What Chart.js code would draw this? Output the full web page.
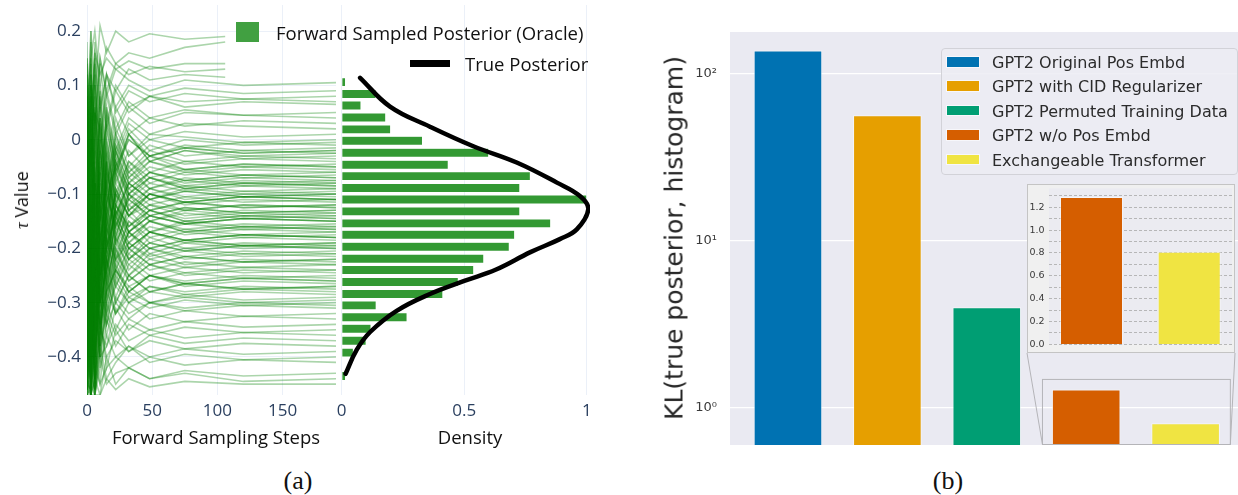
<!DOCTYPE html>
<html>
<head>
<meta charset="utf-8">
<script src="https://cdn.jsdelivr.net/npm/chart.js@4.4.0/dist/chart.umd.min.js"></script>
<style>
    body { margin: 0; width: 1238px; height: 495px; background: #fff; position: relative; overflow: hidden; }
    .abs { position: absolute; }
    .lbl { position: absolute; white-space: nowrap; transform: translate(-50%, -50%); }
    .row { position: absolute; white-space: nowrap; transform: translateY(-50%); }
</style>
</head>
<body>

<!-- panel (a) -->
<canvas id="trajChart" class="abs" style="left:0;top:0" width="340" height="450"></canvas>
<canvas id="histChart" class="abs" style="left:330px;top:0" width="270" height="450"></canvas>

<div class="abs" style="left:236px;top:22px;width:23px;height:20px;background:#41a041"></div>
<div class="row" style="left:276px;top:32px;font:18.5px 'Open Sans';color:#111">Forward Sampled Posterior (Oracle)</div>
<div class="abs" style="left:410px;top:60px;width:40px;height:6.5px;background:#000"></div>
<div class="row" style="left:465px;top:63px;font:18.5px 'Open Sans';color:#111">True Posterior</div>

<div class="lbl" style="left:216px;top:436px;font:18.5px 'Open Sans';color:#111">Forward Sampling Steps</div>
<div class="lbl" style="left:470px;top:436px;font:18.5px 'Open Sans';color:#111">Density</div>
<div class="lbl" style="left:21px;top:200px;font:18px 'Open Sans';color:#111;transform:translate(-50%,-50%) rotate(-90deg)"><i style="font-family:'Liberation Serif'">τ</i> Value</div>
<div class="lbl" style="left:298px;top:481px;font:26px 'Liberation Serif';color:#111">(a)</div>

<!-- panel (b) -->
<canvas id="klChart" class="abs" style="left:620px;top:0" width="618" height="445"></canvas>

<div class="lbl" style="left:674px;top:238px;font:25px 'DejaVu Sans';color:#262626;transform:translate(-50%,-50%) rotate(-90deg)">KL(true posterior, histogram)</div>
<div class="lbl" style="left:948px;top:481px;font:26px 'Liberation Serif';color:#111">(b)</div>

<div id="klLegend" class="abs" style="left:941px;top:48px;width:295px;height:125px;background:rgba(236,236,243,0.85);border:1px solid #d2d2d8;border-radius:4px"></div>

<div id="insetBox" class="abs" style="left:1027px;top:184px;width:206px;height:167px;background:#f0f0f0;border:1px solid #c4c4c4">
    <canvas id="insetChart" width="206" height="167"></canvas>
</div>

<script>
// ---------- (a) forward sampling trajectories ----------
const STEPS = [0, 3, 6, 10, 15, 22, 32, 48, 75, 120, 191];
const STEPS_SHORT = [0, 3, 6, 10, 15, 22, 32, 48, 75, 106];

// tau values in hundredths, one row per trajectory
const TRAJ = [
    [-5, 12, 3, 15, 8, 13, 11, 9, 11, 10, 10.5],
    [2, -10, 18, 6, 12, 5, 9, 7, 8.5, 7.5, 8],
    [-20, 8, -5, 10, 2, 9, 5, 8, 6, 7, 6.5],
    [10, -15, 5, -3, 8, 1, 6, 3, 5, 4.5, 4],
    [-30, 5, 12, -8, 6, -2, 4, 1, 3, 2.5, 2],
    [-12, -35, 0, 8, -6, 4, -3, 1, 0.5, -0.5, 0],
    [5, 15, -20, -5, 3, -4, 2, -2, 0, -1, -0.5],
    [-40, -10, 8, -15, 2, -6, 0, -3, -1.5, -2.5, -2],
    [-8, 20, -12, 6, -9, 1, -5, -1, -3, -2, -2.5],
    [-25, -45, -15, -2, -10, -5, 1, -4, -2, -3.5, -3],
    [12, -5, 10, -12, 0, -8, -2, -6, -4, -5, -4.5],
    [-35, 0, -28, -10, -14, 1, -7, -3, -5.5, -4.5, -5],
    [-2, -20, 5, 2, -10, -1, -6, -3, -4.5, -3.5, -4],
    [-15, 10, -30, -20, -2, -10, -4, -8, -6, -7, -6.5],
    [3, -38, -5, -18, -12, -3, -9, -6, -7.5, -6.5, -7],
    [-45, -25, -8, 4, -12, -2, -8, -5, -6.5, -5.5, -6],
    [-10, -2, -40, -15, 0, -12, -5, -9, -7, -8, -7.5],
    [8, -30, -12, -25, -5, -14, -7, -10, -8.5, -9.5, -9],
    [-28, 5, -20, 0, -16, -4, -11, -7, -9, -8, -8.5],
    [-18, -42, 2, -22, -6, -15, -8, -11, -9, -10, -9.5],
    [-5, -15, -35, -2, -18, -5, -10, -7, -8.5, -7.5, -8],
    [-38, -8, -22, -30, -4, -16, -9, -12, -10.5, -11.5, -11],
    [15, -25, -10, -18, -14, -6, -13, -9, -11, -10, -10.5],
    [-22, -47, -30, -5, -20, -9, -14, -10, -12, -11, -11.5],
    [-8, 10, -15, -25, -3, -14, -8, -11, -9.5, -10.5, -10],
    [-45, -20, 0, -12, -22, -6, -13, -10, -11.5, -10.5, -11],
    [-30, -5, -38, -15, -8, -18, -10, -13, -11.5, -12.5, -12],
    [0, -32, -18, -28, -10, -16, -11, -14, -12.5, -13.5, -13],
    [-12, -40, -8, -20, -25, -9, -16, -12, -14, -13, -13.5],
    [-42, -15, -25, 0, -18, -10, -14, -11, -13, -12, -12.5],
    [-20, 5, -35, -22, -6, -20, -12, -15, -13.5, -14.5, -14],
    [-35, -45, -12, -25, -20, -10, -17, -14, -15.5, -14.5, -15],
    [-5, -28, -40, -10, -24, -12, -18, -15, -16.5, -15.5, -16],
    [-25, -10, -20, -35, -9, -19, -13, -17, -15, -16, -15.5],
    [-46, -30, -5, -18, -22, -12, -16, -13, -15, -14, -14.5],
    [-15, -38, -28, -8, -20, -14, -19, -15, -17, -16, -16.5],
    [-32, 0, -42, -25, -12, -22, -15, -19, -17, -18, -17.5],
    [-10, -44, -15, -30, -22, -13, -20, -17, -18.5, -17.5, -18],
    [-40, -22, -8, -20, -26, -14, -19, -16, -17.5, -16.5, -17],
    [-28, -12, -36, -14, -24, -16, -21, -17, -19, -18, -18.5],
    [-45, -30, -20, -40, -15, -24, -17, -21, -19, -20, -19.5],
    [-18, -46, -32, -12, -28, -17, -22, -19, -20.5, -19.5, -20],
    [-3, -25, -44, -22, -14, -23, -17, -20, -18.5, -19.5, -19],
    [-38, -15, -25, -35, -27, -18, -24, -20, -21.5, -20.5, -21],
    [-26, -42, -10, -30, -18, -26, -20, -23, -21.5, -22.5, -22],
    [-44, -35, -28, -16, -26, -19, -23, -20, -22, -21, -21.5],
    [-12, -30, -46, -28, -20, -27, -21, -24, -22.5, -23.5, -23],
    [-35, -20, -38, -22, -30, -20, -26, -23, -24.5, -23.5, -24],
    [-46, -40, -18, -34, -22, -29, -23, -26, -24.5, -25.5, -25],
    [-22, -47, -35, -20, -32, -24, -28, -25, -26.5, -25.5, -26],
    [-40, -28, -45, -33, -22, -30, -25, -28, -26.5, -27.5, -27],
    [-8, -38, -25, -40, -30, -23, -28, -25, -27, -26, -26.5],
    [-45, -46, -30, -24, -34, -26, -30, -27, -28.5, -27.5, -28],
    [-30, -15, -44, -36, -25, -32, -27, -30, -28.5, -29.5, -29],
    [-47, -35, -40, -28, -36, -29, -32, -30, -31, -30, -30.5],
    [-38, -47, -25, -42, -30, -35, -30, -33, -31.5, -32.5, -32],
    [-20, -44, -46, -35, -38, -31, -35, -32, -33.5, -32.5, -33],
    [-46, -30, -42, -45, -33, -38, -34, -36, -34.5, -35.5, -35],
    [-44, -47, -38, -32, -42, -35, -39, -36, -37.5, -36.5, -37],
    [-47, -42, -47, -38, -44, -41, -38, -41, -39.5, -40.5, -40],
    [-46, -47, -44, -47, -40, -45, -42, -44, -43, -44.5, -44],
    [-18, 6, 15, -2, 12, 6, 10, 8, 9.5, 8.5, 9],
    [8, -22, 0, 14, 3, 10, 6, 8, 7, 7.5, 7],
    [-35, -5, 10, 0, 9, 2, 7, 4, 5.5, 4.5, 5],
    [15, 2, -18, 9, -4, 6, 1, 4, 2.5, 3.5, 3],
    [-10, -40, 6, -12, 5, -3, 3, 0, 1.5, 0.5, 1],
    [-44, 10, -10, 4, -8, 2, -3, 0, -1.5, -0.5, -1],
    [0, -18, -38, -6, 2, -7, 1, -3, -1, -2, -1.5],
    [-28, 12, 2, -20, -8, 0, -6, -2, -4, -3, -3.5],
    [18, -30, -8, -14, 4, -5, 0, -3, -1.5, -2.5, -2],
    [-38, -12, -26, 3, -12, -2, -8, -4, -6, -5, -5.5],
    [-6, 14, -18, -28, -1, -11, -4, -7, -5.5, -6.5, -6],
    [-46, -28, 5, -14, -9, -1, -7, -4, -5.5, -4.5, -5],
    [6, -42, -20, -2, -14, -4, -9, -6, -7.5, -6.5, -7],
    [-24, -6, -44, -16, -3, -12, -6, -9, -7.5, -8.5, -8],
    [-40, 4, -14, -30, -12, -5, -11, -8, -9.5, -8.5, -9],
    [-14, -36, -2, -24, -16, -7, -12, -9, -10.5, -9.5, -10],
    [10, -24, -30, -6, -15, -4, -10, -7, -9, -8, -8.5],
    [-32, -46, -10, -20, -5, -14, -8, -11, -9.5, -10.5, -10],
    [-2, -14, -40, -26, -18, -8, -13, -10, -11.5, -10.5, -11],
    [-46, -22, -4, -34, -10, -16, -10, -13, -11.5, -12.5, -12],
    [-20, 8, -28, -8, -20, -9, -14, -10, -11.5, -10.5, -11],
    [-36, -40, -16, -4, -18, -10, -14, -12, -13, -12, -12.5],
    [4, -30, -46, -20, -8, -17, -11, -14, -12.5, -13.5, -13],
    [-26, -10, -22, -38, -16, -11, -17, -13, -15, -14, -14.5],
    [-44, -46, -8, -18, -24, -12, -16, -13, -14.5, -13.5, -14],
    [-12, -24, -34, -12, -20, -13, -17, -14, -15.5, -14.5, -15],
    [-30, 2, -18, -32, -12, -19, -14, -17, -15.5, -16.5, -16],
    [-46, -34, -26, -6, -22, -12, -17, -14, -15.5, -14.5, -15],
    [-8, -44, -12, -26, -14, -21, -15, -18, -16.5, -17.5, -17],
    [-38, -18, -46, -14, -26, -15, -20, -17, -18.5, -17.5, -18],
    [-22, -32, -6, -36, -20, -13, -18, -15, -17, -16, -16.5],
    [-44, -8, -30, -22, -16, -22, -17, -20, -18.5, -19.5, -19],
    [-16, -40, -38, -10, -28, -18, -22, -19, -20.5, -19.5, -20],
    [-34, -26, -14, -30, -24, -15, -20, -17, -18.5, -17.5, -18],
    [-47, -12, -44, -24, -16, -24, -19, -22, -20.5, -21.5, -21],
    [-20, -46, -24, -34, -28, -20, -25, -21, -23, -22, -22.5],
    [-40, -36, -8, -26, -18, -22, -19, -21.5, -20, -21, -20.5],
    [-10, -28, -40, -16, -30, -21, -25, -22, -23.5, -22.5, -23],
    [-44, -16, -30, -38, -18, -25, -20, -23, -21.5, -22.5, -22],
    [-26, -47, -20, -28, -32, -22, -26, -23, -25, -24, -24.5],
    [-46, -32, -42, -18, -28, -24, -27, -25, -26, -25, -25.5],
    [-14, -40, -28, -34, -22, -27, -22, -25, -23.5, -24.5, -24],
    [-36, -20, -46, -30, -24, -30, -25, -28, -26.5, -27.5, -27],
    [-47, -44, -22, -38, -28, -24, -28, -25, -26.5, -25.5, -26],
    [-24, -38, -34, -22, -32, -27, -30, -28, -29, -28, -28.5],
    [-42, -28, -47, -36, -26, -32, -28, -30, -29, -30, -29.5],
    [-30, -47, -18, -30, -34, -25, -29, -27, -28, -27, -27.5],
    [-46, -36, -40, -26, -34, -30, -33, -30, -31.5, -30.5, -31],
    [-18, -42, -30, -40, -28, -32, -29, -31, -29.5, -30.5, -30],
    [-44, -26, -47, -38, -32, -36, -33, -35, -33.5, -34.5, -34],
    [-47, -46, -34, -40, -38, -34, -37, -35, -36.5, -35.5, -36],
    [-32, -47, -44, -34, -40, -37, -39, -37, -38.5, -37.5, -38],
    [-46, -40, -47, -42, -36, -40, -38, -40, -38.5, -39.5, -39],
    [-47, -47, -38, -45, -42, -40, -42, -40, -41.5, -40.5, -41],
    [-44, -47, -47, -40, -45, -43, -42, -44, -42.5, -43.5, -43],
    [-47, -45, -47, -47, -44, -46, -44, -45.5, -44.5, -45, -45],
    [14, -6, 16, -16, 6, -6, 1, -4, -2, -3, -2.5],
    [-4, 18, -24, 8, -16, -2, -10, -6, -8, -7, -7.5],
    [12, -16, 8, -30, -4, -18, -10, -15, -13, -14, -13.5],
    [-8, -2, -26, 4, -24, -14, -22, -18, -20, -19, -19.5]
];
// the upper runs stop near step 106
const TRAJ_SHORT = [
    [0, 20, 8, 21, 16, 20, 18, 19.5, 18.5, 19],
    [-10, 15, 20, 10, 17, 14, 16, 15, 17, 18],
    [5, -5, 16, 12, 15, 13, 14.5, 13, 14, 14],
    [-15, 10, 2, 15, 9, 14, 12, 13.5, 12.5, 13],
    [8, -8, 14, 5, 12, 9, 13, 11, 12, 11.5]
];

const STEP_TICKS = [0, 50, 100, 150];
const TAU_TICKS = [0.2, 0.1, 0, -0.1, -0.2, -0.3, -0.4];

// histogram of final values
const BIN_TAU = [0.106, 0.084, 0.063, 0.041, 0.019, -0.002, -0.024, -0.046, -0.067, -0.089, -0.110, -0.132, -0.154,
                 -0.175, -0.197, -0.219, -0.240, -0.262, -0.284, -0.305, -0.327, -0.348, -0.370, -0.392, -0.413, -0.435];
const BIN_DENSITY = [0.016, 0.14, 0.079, 0.18, 0.20, 0.33, 0.60, 0.435, 0.77, 0.727, 1.0, 0.727, 0.853,
                     0.706, 0.684, 0.58, 0.539, 0.476, 0.413, 0.141, 0.267, 0.12, 0.10, 0.048, 0, 0.016];

// true posterior curve
const TRUE_TAU = [0.114, 0.061, 0.024, -0.012, -0.042, -0.079, -0.104, -0.128, -0.165, -0.183,
                  -0.207, -0.239, -0.260, -0.284, -0.315, -0.354, -0.387, -0.431];
const TRUE_DENSITY = [0.075, 0.197, 0.36, 0.537, 0.714, 0.878, 0.973, 1.006, 0.959, 0.89,
                      0.77, 0.63, 0.50, 0.36, 0.224, 0.116, 0.061, 0.016];
const DENSITY_TICKS = [0, 0.5, 1];

// ---------- (b) KL divergence per model ----------
const MODELS = ['GPT2 Original Pos Embd', 'GPT2 with CID Regularizer', 'GPT2 Permuted Training Data',
                'GPT2 w/o Pos Embd', 'Exchangeable Transformer'];
const KL = [137, 56.2, 4.0, 1.29, 0.81];
const MODEL_COLORS = ['#0072B2', '#E69F00', '#009E73', '#D55E00', '#F0E442'];
const KL_TICKS = [1, 10, 100];
const INSET_GRID = [0, 0.1, 0.2, 0.3, 0.4, 0.5, 0.6, 0.7, 0.8, 0.9, 1.0, 1.1, 1.2, 1.3];

// area of the main plot that the inset magnifies
const ZOOM_X = [2.56, 4.45];
const ZOOM_TOP = 1.48;

Chart.defaults.animation = false;
Chart.defaults.plugins.legend.display = false;
Chart.defaults.plugins.tooltip.enabled = false;

const plotlyTick = { family: 'Open Sans', size: 17 };
const plotlyGrid = '#EBF0F8';
const fmtTau = v => v < 0 ? '\u2212' + Math.abs(v) : String(v);

// fixed axis size and no extra label padding, so the plot area sits where the figure has it
const fixAxis = (w, h) => s => {
    if (w !== undefined) s.width = w;
    if (h !== undefined) s.height = h;
    s.paddingTop = s.paddingBottom = s.paddingLeft = s.paddingRight = 0;
};

const plotBg = {
    id: 'plotBg',
    beforeDraw(chart, args, opts) {
        const { ctx, chartArea: a } = chart;
        ctx.save();
        ctx.fillStyle = opts.color;
        ctx.fillRect(a.left, a.top, a.right - a.left, a.bottom - a.top);
        ctx.restore();
    }
};

// trajectories
const trajSets = [];
TRAJ.forEach(row => trajSets.push({ data: STEPS.map((s, i) => ({ x: s, y: row[i] / 100 })) }));
TRAJ_SHORT.forEach(row => trajSets.push({ data: STEPS_SHORT.map((s, i) => ({ x: s, y: row[i] / 100 })) }));

new Chart(document.getElementById('trajChart'), {
    type: 'line',
    data: {
        datasets: trajSets.map(d => ({
            ...d,
            borderColor: 'rgba(0, 128, 0, 0.33)',
            borderWidth: 1.6,
            pointRadius: 0,
            tension: 0
        }))
    },
    options: {
        responsive: false,
        layout: { padding: { top: 5, right: 4 } },
        scales: {
            x: {
                type: 'linear', min: 0, max: 191,
                afterBuildTicks: s => { s.ticks = STEP_TICKS.map(v => ({ value: v })); },
                afterFit: fixAxis(undefined, 55),
                grid: { color: plotlyGrid, drawTicks: false },
                border: { display: false },
                ticks: { color: '#2a3f5f', font: plotlyTick, padding: 6, maxRotation: 0 }
            },
            y: {
                type: 'linear', min: -0.47, max: 0.248,
                afterBuildTicks: s => { s.ticks = TAU_TICKS.map(v => ({ value: v })); },
                afterFit: fixAxis(87),
                grid: { color: plotlyGrid, drawTicks: false },
                border: { display: false },
                ticks: { color: '#2a3f5f', font: plotlyTick, padding: 6, callback: fmtTau }
            }
        }
    }
});

// histogram + true posterior
new Chart(document.getElementById('histChart'), {
    type: 'bar',
    data: {
        datasets: [
            {
                type: 'line',
                data: TRUE_TAU.map((t, i) => ({ x: TRUE_DENSITY[i], y: t })),
                borderColor: '#000',
                borderWidth: 4.5,
                pointRadius: 0,
                tension: 0.4,
                borderCapStyle: 'round'
            },
            {
                indexAxis: 'y',
                data: BIN_TAU.map((t, i) => ({ x: BIN_DENSITY[i], y: t })),
                backgroundColor: '#339933',
                borderColor: 'rgba(255,255,255,0.35)',
                borderWidth: 0.6,
                barPercentage: 0.8,
                categoryPercentage: 1
            }
        ]
    },
    options: {
        responsive: false,
        indexAxis: 'y',
        layout: { padding: { top: 5, right: 10, left: 11.7 } },
        scales: {
            x: {
                type: 'linear', min: 0, max: 1.013,
                afterBuildTicks: s => { s.ticks = DENSITY_TICKS.map(v => ({ value: v })); },
                afterFit: fixAxis(undefined, 55),
                grid: { color: plotlyGrid, drawTicks: false },
                border: { display: false },
                ticks: { color: '#2a3f5f', font: plotlyTick, padding: 6, maxRotation: 0, callback: v => String(v) }
            },
            y: {
                type: 'linear', min: -0.47, max: 0.248, offset: false,
                display: false
            }
        }
    }
});

// zoom box + connectors to the inset
const zoomMark = {
    id: 'zoomMark',
    afterDatasetsDraw(chart) {
        const { ctx, chartArea: a, scales: { x, y } } = chart;
        const x0 = x.getPixelForValue(ZOOM_X[0]);
        const x1 = x.getPixelForValue(ZOOM_X[1]);
        const yTop = y.getPixelForValue(ZOOM_TOP);
        const yBot = a.bottom - 0.5;
        const box = document.getElementById('insetBox').getBoundingClientRect();
        const c = chart.canvas.getBoundingClientRect();
        ctx.save();
        ctx.strokeStyle = '#b4b4b8';
        ctx.lineWidth = 1;
        ctx.strokeRect(x0, yTop, x1 - x0, yBot - yTop);
        ctx.beginPath();
        ctx.moveTo(box.left - c.left, box.bottom - c.top);
        ctx.lineTo(x0, yBot);
        ctx.moveTo(box.right - c.left, box.bottom - c.top);
        ctx.lineTo(x1, yBot);
        ctx.stroke();
        ctx.restore();
    }
};

const superscript = { 1: '10\u2070', 10: '10\u00b9', 100: '10\u00b2' };

new Chart(document.getElementById('klChart'), {
    type: 'bar',
    data: {
        datasets: [{
            data: KL.map((v, i) => ({ x: i, y: v })),
            backgroundColor: MODEL_COLORS,
            borderColor: 'rgba(255,255,255,0.55)',
            borderWidth: 1,
            barPercentage: 0.69,
            categoryPercentage: 1
        }]
    },
    options: {
        responsive: false,
        layout: { padding: { top: 32 } },
        plugins: { plotBg: { color: '#eaeaf2' } },
        scales: {
            x: { type: 'linear', min: -0.583, max: 4.527, offset: false, display: false },
            y: {
                type: 'logarithmic', min: 0.638, max: 177,
                afterBuildTicks: s => { s.ticks = KL_TICKS.map(v => ({ value: v })); },
                afterFit: fixAxis(110),
                grid: { color: '#ffffff', lineWidth: 1.3, drawTicks: false },
                border: { display: false },
                ticks: { color: '#3a3a3a', font: { family: 'DejaVu Sans', size: 13 }, padding: 13, callback: v => superscript[v] }
            }
        }
    },
    plugins: [plotBg, zoomMark]
});

// inset with the two smallest values on a linear axis
new Chart(document.getElementById('insetChart'), {
    type: 'bar',
    data: {
        datasets: [{
            data: [3, 4].map((k, i) => ({ x: i, y: KL[k] })),
            backgroundColor: [MODEL_COLORS[3], MODEL_COLORS[4]],
            borderColor: 'rgba(255,255,255,0.5)',
            borderWidth: 1,
            barPercentage: 0.69,
            categoryPercentage: 1
        }]
    },
    options: {
        responsive: false,
        layout: { padding: { top: 3.3, right: 2, bottom: 7.7 } },
        plugins: { plotBg: { color: '#ebebf1' } },
        scales: {
            x: { type: 'linear', min: -0.435, max: 1.438, offset: false, display: false },
            y: {
                type: 'linear', min: 0, max: 1.366,
                afterBuildTicks: s => { s.ticks = INSET_GRID.map(v => ({ value: v })); },
                afterFit: fixAxis(21),
                grid: { color: '#a8a8a8', lineWidth: 0.8, drawTicks: false },
                border: { display: false, dash: [3, 2] },
                ticks: {
                    color: '#3a3a3a', font: { family: 'DejaVu Sans', size: 9.5 }, padding: 4.5, autoSkip: false,
                    callback: (v, i) => i % 2 === 0 ? v.toFixed(1) : ''
                }
            }
        }
    },
    plugins: [plotBg]
});

// legend for (b)
const legend = document.getElementById('klLegend');
MODELS.forEach((name, i) => {
    const top = 13 + i * 24.4;
    legend.insertAdjacentHTML('beforeend',
        `<div class="abs" style="left:5px;top:${top - 5}px;width:32px;height:9.5px;background:${MODEL_COLORS[i]};outline:1px solid rgba(255,255,255,0.6)"></div>` +
        `<div class="row" style="left:50px;top:${top}px;font:16px 'DejaVu Sans';color:#2b2b2b">${name}</div>`);
});
</script>
</body>
</html>
